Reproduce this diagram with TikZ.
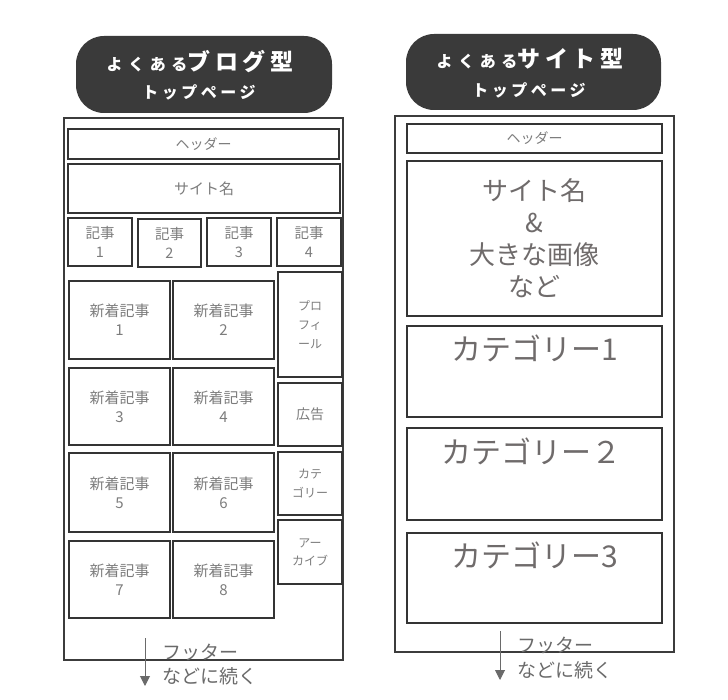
\documentclass[tikz,border=0pt]{standalone}
\usepackage{fontspec}
\setmainfont{Noto Sans CJK JP}
\usetikzlibrary{arrows.meta}
\definecolor{boxc}{HTML}{343434}
\definecolor{framec}{HTML}{3C3C3C}
\definecolor{txt}{HTML}{7C7C7C}
\definecolor{bigtxt}{HTML}{6F6B6B}
\definecolor{badgec}{HTML}{3A3A3A}
\definecolor{arrowc}{HTML}{6A6A6A}
\newcommand\fsz[2]{\fontsize{#1}{#2}\selectfont}
\newcommand\bx[7]{\node[box, font=#6, minimum width={(#4-#2)*1pt}, minimum height={(#5-#3)*1pt}] (#1) at ({(#2+#4)/2},{(#3+#5)/2}) {#7};}
\newcommand\frm[5]{\node[framebox, minimum width={(#4-#2)*1pt}, minimum height={(#5-#3)*1pt}] (#1) at ({(#2+#4)/2},{(#3+#5)/2}) {};}
\begin{document}
\begin{tikzpicture}[x=1pt,y=-1pt,
  box/.style={draw=boxc, line width=1.4pt, inner sep=0pt, text=txt, align=center},
  framebox/.style={draw=framec, line width=1.3pt, inner sep=0pt},
  badge/.style={fill=badgec, rounded corners=28pt, inner sep=0pt},
  badgetxt/.style={text=white, inner sep=0pt, font=\bfseries},
  bigtext/.style={text=bigtxt, inner sep=0pt, font=\fsz{30}{34}},
  foot/.style={text=arrowc, inner sep=0pt, anchor=west, font=\fsz{19}{22}},
  footarrow/.style={draw=arrowc, line width=1pt, -{Triangle[width=10pt,length=10pt]}}
]
\useasboundingbox (0,0) rectangle (728,700);

% ---------- left panel ----------
\node[badge, minimum width=256pt, minimum height=77pt] (badgeL) at (204,74.5) {};
\node[badgetxt] (bL1) at (200,62) {{\fsz{16}{18}\addfontfeature{LetterSpace=35}よくある}{\fsz{23}{26}\addfontfeature{LetterSpace=20}ブログ型}};
\node[badgetxt] (bL2) at (199,92) {\fsz{16}{18}\addfontfeature{LetterSpace=22}トップページ};

\frm{frameL}{64}{118}{343}{660}
\bx{hdrL}{68}{129}{339}{159}{\fsz{14}{19}}{ヘッダー}
\bx{siteL}{68}{164}{340}{213}{\fsz{15}{19}}{サイト名}
\bx{k1}{68}{218}{132}{266}{\fsz{14.5}{19}}{記事\\1}
\bx{k2}{138}{219}{201}{267}{\fsz{14.5}{19}}{記事\\2}
\bx{k3}{207}{218}{271}{266}{\fsz{14.5}{19}}{記事\\3}
\bx{k4}{277}{218}{341}{266}{\fsz{14.5}{19}}{記事\\4}
\bx{n1}{69}{281}{170}{359}{\fsz{15}{19}}{新着記事\\1}
\bx{n2}{173}{281}{274}{359}{\fsz{15}{19}}{新着記事\\2}
\bx{n3}{69}{368}{170}{445}{\fsz{15}{19}}{新着記事\\3}
\bx{n4}{173}{368}{274}{445}{\fsz{15}{19}}{新着記事\\4}
\bx{n5}{69}{453}{170}{532}{\fsz{15}{19}}{新着記事\\5}
\bx{n6}{173}{453}{274}{532}{\fsz{15}{19}}{新着記事\\6}
\bx{n7}{69}{541}{170}{618}{\fsz{15}{19}}{新着記事\\7}
\bx{n8}{173}{541}{274}{618}{\fsz{15}{19}}{新着記事\\8}
\bx{prof}{278}{272}{342}{377}{\fsz{12}{19}}{プロ\\フィ\\ール}
\bx{ad}{278}{383}{342}{446}{\fsz{14}{19}}{広告}
\bx{catL}{278}{452}{342}{515}{\fsz{12}{19}}{カテ\\ゴリー}
\bx{arch}{278}{520}{342}{584}{\fsz{12}{18}}{アー\\カイブ}

\coordinate (aL0) at (145,638);
\coordinate (aL1) at (145,686);
\draw[footarrow] (aL0) -- (aL1);
\node[foot] (fL1) at (162,652) {フッター};
\node[foot] (fL2) at (162,676) {などに続く};

% ---------- right panel ----------
\node[badge, minimum width=255pt, minimum height=76pt] (badgeR) at (533.5,72) {};
\node[badgetxt] (bR1) at (530,59) {{\fsz{16}{18}\addfontfeature{LetterSpace=35}よくある}{\fsz{23}{26}\addfontfeature{LetterSpace=20}サイト型}};
\node[badgetxt] (bR2) at (529,90) {\fsz{16}{18}\addfontfeature{LetterSpace=22}トップページ};

\frm{frameR}{395}{116}{674}{652}
\bx{hdrR}{407}{124}{662}{153}{\fsz{14}{19}}{ヘッダー}
\bx{siteR}{407}{161}{662}{316}{\fsz{26}{32}}{\color{bigtxt}サイト名\\\color{bigtxt}\&\\\color{bigtxt}大きな画像\\\color{bigtxt}など}
\bx{c1}{407}{326}{662}{417}{\fsz{14}{19}}{}
\bx{c2}{407}{428}{662}{520}{\fsz{14}{19}}{}
\bx{c3}{407}{533}{662}{623}{\fsz{14}{19}}{}
\node[bigtext] (c1t) at (534.5,348) {カテゴリー1};
\node[bigtext] (c2t) at (531,451) {カテゴリー２};
\node[bigtext] (c3t) at (535,555) {カテゴリー3};

\coordinate (aR0) at (500,631);
\coordinate (aR1) at (500,680);
\draw[footarrow] (aR0) -- (aR1);
\node[foot] (fR1) at (517,645) {フッター};
\node[foot] (fR2) at (517,670) {などに続く};
\end{tikzpicture}
\end{document}
